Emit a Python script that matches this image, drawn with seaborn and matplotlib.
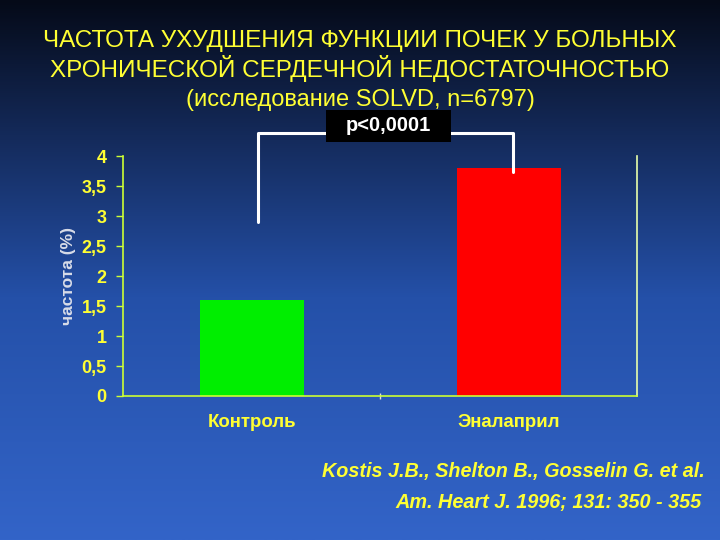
#!/usr/bin/env python3
"""
Частота ухудшения функции почек (SOLVD)
"""

import matplotlib
matplotlib.use('Agg')
import matplotlib.pyplot as plt
import numpy as np
import pandas as pd
import seaborn as sns
from matplotlib.colors import LinearSegmentedColormap
from matplotlib.patches import Rectangle

# данные
groups = ['Контроль', 'Эналаприл']
values = [1.6, 3.8]
bar_colors = ['#00ee00', '#ff0000']
yticks = [0, 0.5, 1, 1.5, 2, 2.5, 3, 3.5, 4]
ytick_labels = ['0', '0,5', '1', '1,5', '2', '2,5', '3', '3,5', '4']

sns.set_theme(style='white')
plt.rcParams['font.family'] = ['Liberation Sans', 'DejaVu Sans']

YELLOW = '#ffff33'
SPINE = '#ccff33'

fig = plt.figure(figsize=(7.2, 5.4), dpi=100)

# фон - вертикальный градиент
bg = fig.add_axes([0, 0, 1, 1], zorder=-10)
cmap = LinearSegmentedColormap.from_list(
    'bg', [(0, '#050a18'), (0.25, '#142a5a'), (0.55, '#2450a8'), (1, '#3364c8')])
bg.imshow(np.linspace(0, 1, 256).reshape(-1, 1), aspect='auto', cmap=cmap,
          extent=[0, 1, 0, 1], origin='upper')
bg.axis('off')

ax = fig.add_axes([0.171, 0.2667, 0.714, 0.444])
ax.patch.set_alpha(0)

df = pd.DataFrame({'group': groups, 'value': values})
sns.barplot(data=df, x='group', y='value', hue='group', palette=bar_colors,
            width=0.405, saturation=1, legend=False, linewidth=0, ax=ax)

ax.set_xlim(-0.5, 1.5)
ax.set_ylim(0, 4)
ax.set_yticks(yticks)
ax.set_yticklabels(ytick_labels, color=YELLOW, fontsize=13, fontweight='bold')
ax.set_xticks([0, 1])
ax.set_xticklabels(groups, color=YELLOW, fontsize=13.4, fontweight='bold')
ax.set_xlabel('')
ax.set_ylabel('частота (%)', color='#d8dce8', fontsize=12.5, fontweight='bold', labelpad=4)

ax.tick_params(axis='y', length=5, color=SPINE, width=1, pad=7, left=True)
ax.tick_params(axis='x', length=0, pad=13)
ax.set_xticks([0.5], minor=True)
ax.tick_params(axis='x', which='minor', length=5, color='#dddddd', direction='inout', bottom=True)

for side in ['left', 'bottom']:
    ax.spines[side].set_color(SPINE)
    ax.spines[side].set_linewidth(1.2)
ax.spines['right'].set_color('#e8ffaa')
ax.spines['right'].set_linewidth(1.2)
ax.spines['top'].set_visible(False)

# скобка с p
top = max(values) + 0.58
ax.plot([0.025, 0.025, 1.017, 1.017], [values[0] + 1.3, top, top, values[1] - 0.07],
        color='white', lw=2.2, clip_on=False, zorder=5)
fig.patches.append(Rectangle((0.4528, 0.737), 0.1736, 0.0593, transform=fig.transFigure,
                             fc='black', ec='none', zorder=6))
fig.text(0.5396, 0.7667, 'p<0,0001', color='white', fontsize=14.5, fontweight='bold',
         ha='center', va='center', zorder=7)

# заголовок
fig.text(0.5, 0.925, 'ЧАСТОТА УХУДШЕНИЯ ФУНКЦИИ ПОЧЕК У БОЛЬНЫХ', color=YELLOW,
         fontsize=17.5, ha='center', va='center')
fig.text(0.5, 0.873, 'ХРОНИЧЕСКОЙ СЕРДЕЧНОЙ НЕДОСТАТОЧНОСТЬЮ', color=YELLOW,
         fontsize=17.5, ha='center', va='center')
fig.text(0.5, 0.814, '(исследование SOLVD, n=6797)', color=YELLOW,
         fontsize=17, ha='center', va='center')

# источник
fig.text(0.979, 0.127, 'Kostis J.B., Shelton B., Gosselin G. et al.', color=YELLOW,
         fontsize=14.2, fontweight='bold', style='italic', ha='right', va='center')
fig.text(0.975, 0.07, 'Am. Heart J. 1996; 131: 350 - 355', color=YELLOW,
         fontsize=14.3, fontweight='bold', style='italic', ha='right', va='center')

plt.savefig('out.png', dpi=100)
plt.close()
